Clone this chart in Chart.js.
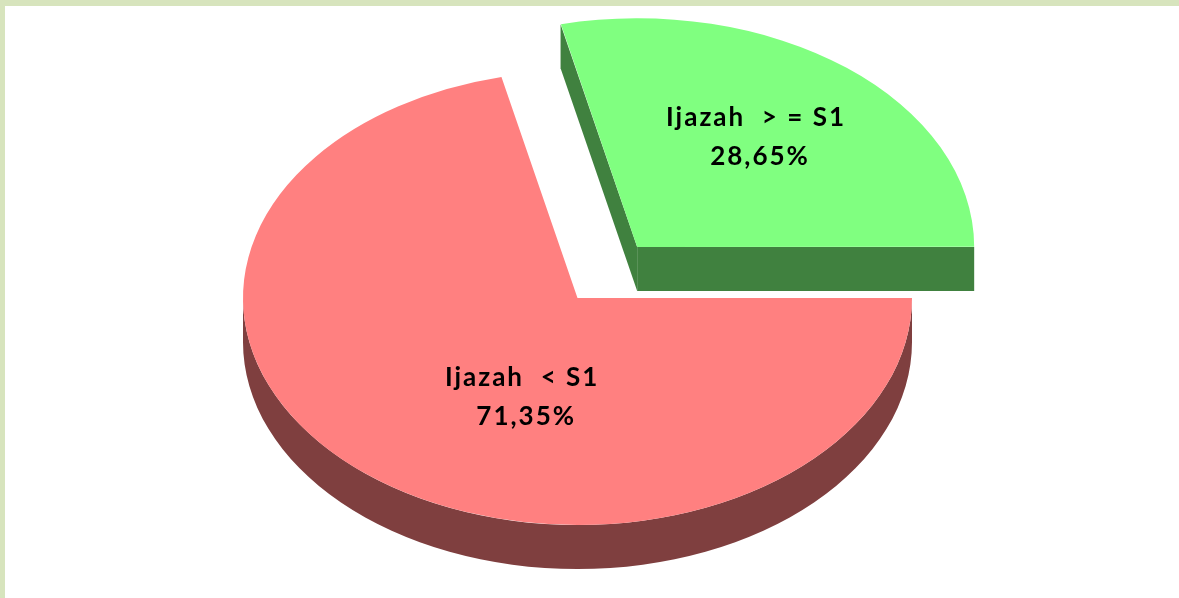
<!DOCTYPE html>
<html>
<head>
<meta charset="utf-8">
<script src="https://cdn.jsdelivr.net/npm/chart.js@4.4.0/dist/chart.umd.min.js"></script>
<style>
  html, body { margin: 0; padding: 0; background: #ffffff; }
  #wrap { position: relative; width: 1179px; height: 598px; overflow: hidden; background: #ffffff; }
  #chart { position: absolute; left: 0; top: 0; }
  #frame { position: absolute; left: 0; top: 0; width: 1179px; height: 598px; box-sizing: border-box;
           border-top: 6px solid #d7e4bd; border-left: 5px solid #d7e4bd; pointer-events: none; }
</style>
</head>
<body>
<div id="wrap">
  <canvas id="chart" width="1179" height="598"></canvas>
  <div id="frame"></div>
</div>
<script>
// ---- data ----
const categories = ['Ijazah  < S1', 'Ijazah  > = S1'];
const values = [71.35, 28.65];
const valueLabels = ['71,35%', '28,65%'];

// ---- style ----
const topColors = ['#FF8080', '#80FF80'];
const sideColors = ['#7F3F3F', '#40813F'];
const explode = [0, 384];          // Chart.js arc offset option (drawn offset = value / 4)
const TILT = 0.6786;               // vertical squash of the pie
const DEPTH = 44;                  // thickness of the pie, px
const CENTER_Y = 298;              // screen y of the pie centre
const labelPlacement = [ {angle: 111, frac: 0.47}, {angle: -54, frac: 0.595} ];
const LABEL_FONT = 'bold 26px Lato, "DejaVu Sans", sans-serif';

function sliceGeom(el) {
  const off = (el.options.offset || 0) / 4;
  const mid = (el.startAngle + el.endAngle) / 2;
  const circ = el.endAngle - el.startAngle;
  const fix = 1 - Math.sin(Math.min(Math.PI, circ));
  const r = el.outerRadius + off * fix;
  return {
    cx: el.x + Math.cos(mid) * off,
    cy: CENTER_Y + Math.sin(mid) * off * TILT,
    r: r, a0: el.startAngle, a1: el.endAngle
  };
}

const pie3d = {
  id: 'pie3d',
  beforeDatasetsDraw(chart) {
    const ctx = chart.ctx;
    const meta = chart.getDatasetMeta(0);
    ctx.save();
    meta.data.forEach((el, i) => {
      const g = sliceGeom(el);
      ctx.fillStyle = sideColors[i];
      const wall = (t) => {
        const px = g.cx + g.r * Math.cos(t);
        const py = g.cy + g.r * TILT * Math.sin(t);
        ctx.beginPath();
        ctx.moveTo(g.cx, g.cy);
        ctx.lineTo(px, py);
        ctx.lineTo(px, py + DEPTH);
        ctx.lineTo(g.cx, g.cy + DEPTH);
        ctx.closePath();
        ctx.fill();
      };
      if (Math.cos(g.a0) < -1e-6) wall(g.a0);
      if (Math.cos(g.a1) > 1e-6) wall(g.a1);
      for (let k = -1; k <= 2; k++) {
        const lo = Math.max(g.a0, 2 * Math.PI * k);
        const hi = Math.min(g.a1, 2 * Math.PI * k + Math.PI);
        if (hi - lo > 1e-6) {
          ctx.beginPath();
          ctx.ellipse(g.cx, g.cy, g.r, g.r * TILT, 0, lo, hi, false);
          ctx.ellipse(g.cx, g.cy + DEPTH, g.r, g.r * TILT, 0, hi, lo, true);
          ctx.closePath();
          ctx.fill();
        }
      }
    });
    ctx.restore();
    const y0 = meta.data[0].y;
    ctx.save();
    ctx.translate(0, CENTER_Y);
    ctx.scale(1, TILT);
    ctx.translate(0, -y0);
  },
  afterDatasetsDraw(chart) {
    const ctx = chart.ctx;
    ctx.restore();
    const meta = chart.getDatasetMeta(0);
    ctx.save();
    ctx.font = LABEL_FONT;
    ctx.fillStyle = '#000000';
    ctx.textAlign = 'center';
    ctx.textBaseline = 'middle';
    try { ctx.letterSpacing = '2px'; } catch (e) {}
    meta.data.forEach((el, i) => {
      const g = sliceGeom(el);
      const a = labelPlacement[i].angle * Math.PI / 180;
      const x = g.cx + Math.cos(a) * labelPlacement[i].frac * g.r;
      const y = g.cy + Math.sin(a) * labelPlacement[i].frac * g.r * TILT;
      ctx.fillText(categories[i], x + 1, y - 19.5);
      ctx.fillText(valueLabels[i], x + 5, y + 19.5);
    });
    ctx.restore();
  }
};

new Chart(document.getElementById('chart'), {
  type: 'pie',
  data: {
    labels: categories,
    datasets: [{
      data: values,
      backgroundColor: topColors,
      borderWidth: 0,
      offset: explode,
      clip: false
    }]
  },
  options: {
    responsive: false,
    animation: false,
    events: [],
    rotation: 90,
    radius: 334.5,
    layout: { padding: { right: 24 } },
    plugins: { legend: { display: false }, tooltip: { enabled: false } }
  },
  plugins: [pie3d]
});
</script>
</body>
</html>
